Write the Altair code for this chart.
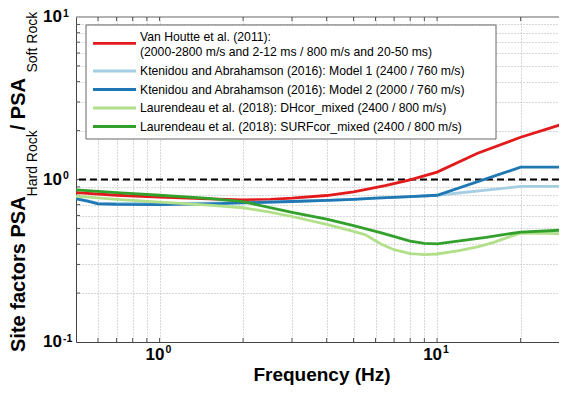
import altair as alt
import pandas as pd

FONT = "Liberation Sans"

# ---------------- data ----------------
series_names = [
    "Van Houtte et al. (2011)",
    "Ktenidou and Abrahamson (2016): Model 1",
    "Ktenidou and Abrahamson (2016): Model 2",
    "Laurendeau et al. (2018): DHcor_mixed",
    "Laurendeau et al. (2018): SURFcor_mixed",
]
series_colors = ["#e31a1c", "#a6cee3", "#1f78b4", "#b2df8a", "#33a02c"]

vh_f = [0.5, 0.7, 1.0, 1.5, 2.0, 2.5, 3.0, 4.0, 5.0, 6.5, 8.0, 10, 14, 20, 25, 29.5]
vh_v = [0.83, 0.80, 0.778, 0.76, 0.75, 0.755, 0.767, 0.797, 0.84, 0.918, 0.996, 1.11, 1.45, 1.82, 2.05, 2.24]

m1_f = [0.5, 0.55, 0.6, 0.7, 1.0, 1.5, 2.0, 3.0, 4.0, 5.0, 6.0, 8.0, 10, 20, 29.5]
m1_v = [0.765, 0.74, 0.715, 0.712, 0.712, 0.716, 0.722, 0.733, 0.743, 0.755, 0.767, 0.785, 0.80, 0.906, 0.906]

m2_f = [0.5, 0.55, 0.6, 0.7, 1.0, 1.5, 2.0, 3.0, 4.0, 5.0, 6.0, 8.0, 10, 20, 29.5]
m2_v = [0.76, 0.735, 0.707, 0.702, 0.70, 0.708, 0.718, 0.732, 0.743, 0.755, 0.767, 0.785, 0.80, 1.19, 1.19]

dh_f = [0.5, 0.7, 1.0, 1.5, 2.0, 2.5, 3.0, 4.0, 5.0, 5.5, 6.3, 7.0, 8.0, 9.0, 10, 12, 14, 16, 18, 20, 25, 29.5]
dh_v = [0.79, 0.755, 0.725, 0.695, 0.67, 0.63, 0.592, 0.53, 0.48, 0.458, 0.40, 0.37, 0.35, 0.345, 0.348, 0.365, 0.385, 0.41, 0.44, 0.468, 0.466, 0.463]

sf_f = [0.5, 0.7, 1.0, 1.5, 2.0, 3.0, 4.0, 5.0, 6.3, 8.0, 9.0, 10, 15, 20, 29.5]
sf_v = [0.864, 0.83, 0.80, 0.765, 0.73, 0.628, 0.57, 0.52, 0.47, 0.418, 0.405, 0.402, 0.44, 0.475, 0.49]

series_f = [vh_f, m1_f, m2_f, dh_f, sf_f]
series_v = [vh_v, m1_v, m2_v, dh_v, sf_v]

reference_level = [1.0]

legend_labels = [
    "Van Houtte et al. (2011):\n(2000-2800 m/s and 2-12 ms / 800 m/s and 20-50 ms)",
    "Ktenidou and Abrahamson (2016): Model 1 (2400 / 760 m/s)",
    "Ktenidou and Abrahamson (2016): Model 2 (2000 / 760 m/s)",
    "Laurendeau et al. (2018): DHcor_mixed (2400 / 800 m/s)",
    "Laurendeau et al. (2018): SURFcor_mixed (2400 / 800 m/s)",
]

x_tick_vals = [1, 10]
x_tick_base = ["10", "10"]
x_tick_exp = ["0", "1"]
y_tick_vals = [0.1, 1, 10]
y_tick_base = ["10", "10", "10"]
y_tick_exp = ["-1", "0", "1"]

x_grid = [0.6, 0.7, 0.8, 0.9, 1, 2, 3, 4, 5, 6, 7, 8, 9, 10, 20]
y_grid = [0.2, 0.3, 0.4, 0.5, 0.6, 0.7, 0.8, 0.9, 1, 2, 3, 4, 5, 6, 7, 8, 9]

x_title = "Frequency (Hz)"
y_title_parts = ["Site factors PSA", "Hard Rock", " / PSA", "Soft Rock"]

# ---------------- chart ----------------
W, H = 483, 325
xs = alt.Scale(type="log", domain=[0.5, 27.5], nice=False)
ys = alt.Scale(type="log", domain=[0.1, 10], nice=False)
xaxis = alt.Axis(values=x_grid, grid=True, labels=False, ticks=False, title=None)
yaxis = alt.Axis(values=y_grid, grid=True, labels=False, ticks=False, title=None)

one = pd.DataFrame({"k": [0]})
layers = []

# top frame line (the right edge of the figure is cut off, as in the original)
layers.append(
    alt.Chart(one)
    .mark_rule(color="#666666", strokeWidth=1)
    .encode(x=alt.value(0), x2=alt.value(W), y=alt.value(0))
)

# small inward tick marks (MATLAB style)
xg = pd.DataFrame({"g": x_grid})
yg = pd.DataFrame({"g": y_grid})
tick_col = "#555555"
layers.append(
    alt.Chart(xg).mark_rule(color=tick_col, strokeWidth=1)
    .encode(x=alt.X("g:Q", scale=xs, axis=xaxis), y=alt.value(0), y2=alt.value(4))
)
layers.append(
    alt.Chart(xg).mark_rule(color=tick_col, strokeWidth=1)
    .encode(x=alt.X("g:Q", scale=xs, axis=xaxis), y=alt.value(H - 4), y2=alt.value(H))
)
layers.append(
    alt.Chart(yg).mark_rule(color=tick_col, strokeWidth=1)
    .encode(y=alt.Y("g:Q", scale=ys, axis=yaxis), x=alt.value(0), x2=alt.value(4))
)

# dashed reference line
layers.append(
    alt.Chart(pd.DataFrame({"r": reference_level}))
    .mark_rule(color="black", strokeWidth=2, strokeDash=[7, 4])
    .encode(y=alt.Y("r:Q", scale=ys, axis=yaxis))
)

# series lines (drawn in legend order, last on top)
for name, col, fs, vs in zip(series_names, series_colors, series_f, series_v):
    df = pd.DataFrame({"f": fs, "v": vs})
    layers.append(
        alt.Chart(df)
        .mark_line(color=col, strokeWidth=2.8, interpolate="linear", clip=True)
        .encode(
            x=alt.X("f:Q", scale=xs, axis=xaxis),
            y=alt.Y("v:Q", scale=ys, axis=yaxis),
        )
    )

# legend box
layers.append(
    alt.Chart(one)
    .mark_rect(fill="white", stroke="#666666", strokeWidth=1)
    .encode(x=alt.value(10), x2=alt.value(420), y=alt.value(8), y2=alt.value(122))
)
legend_rows = [26.3, 54, 72.5, 91, 109.5]
legend_text_shift = [-6.0, 0, 0, 0, 0]
for lab, col, ly, sh in zip(legend_labels, series_colors, legend_rows, legend_text_shift):
    layers.append(
        alt.Chart(one)
        .mark_rule(color=col, strokeWidth=2.8)
        .encode(x=alt.value(17), x2=alt.value(60), y=alt.value(ly))
    )
    layers.append(
        alt.Chart(pd.DataFrame({"t": [lab]}))
        .mark_text(align="left", baseline="middle", font=FONT, fontSize=12.2,
                   color="black", lineBreak="\n", lineHeight=15)
        .encode(x=alt.value(64), y=alt.value(ly + sh), text="t:N")
    )

# y tick labels
ydf = pd.DataFrame({"v": y_tick_vals, "b": y_tick_base, "e": y_tick_exp})
layers.append(
    alt.Chart(ydf)
    .mark_text(align="right", baseline="middle", font=FONT, fontSize=17,
               fontWeight="bold", color="black")
    .encode(x=alt.value(-14), y=alt.Y("v:Q", scale=ys, axis=yaxis), text="b:N")
)
layers.append(
    alt.Chart(ydf)
    .mark_text(align="left", baseline="middle", font=FONT, fontSize=10.5,
               fontWeight="bold", color="black", dy=-3.5)
    .encode(x=alt.value(-13), y=alt.Y("v:Q", scale=ys, axis=yaxis), text="e:N")
)

# x tick labels
xdf = pd.DataFrame({"f": x_tick_vals, "b": x_tick_base, "e": x_tick_exp})
layers.append(
    alt.Chart(xdf)
    .mark_text(align="right", baseline="middle", font=FONT, fontSize=17,
               fontWeight="bold", color="black", dx=5)
    .encode(x=alt.X("f:Q", scale=xs, axis=xaxis), y=alt.value(H + 13), text="b:N")
)
layers.append(
    alt.Chart(xdf)
    .mark_text(align="left", baseline="middle", font=FONT, fontSize=10.5,
               fontWeight="bold", color="black", dx=6, dy=-5)
    .encode(x=alt.X("f:Q", scale=xs, axis=xaxis), y=alt.value(H + 13), text="e:N")
)

# x title (centred on the full, uncut plot width of the original)
layers.append(
    alt.Chart(pd.DataFrame({"t": [x_title]}))
    .mark_text(align="center", baseline="alphabetic", font=FONT, fontSize=19,
               fontWeight="bold", color="black")
    .encode(x=alt.value(246), y=alt.value(H + 39), text="t:N")
)

# y title pieces (rotated, reading upward, with subscripts)
piece_style = [(20, "bold", -51), (14, "normal", -39), (20, "bold", -51), (14, "normal", -39)]
piece_start = [335, 179.4, 113.3, 55.5]
for txt, (fsz, fw, px), py in zip(y_title_parts, piece_style, piece_start):
    layers.append(
        alt.Chart(pd.DataFrame({"t": [txt]}))
        .mark_text(align="left", baseline="alphabetic", angle=270, font=FONT,
                   fontSize=fsz, fontWeight=fw, color="black")
        .encode(x=alt.value(px), y=alt.value(py), text="t:N")
    )

chart = (
    alt.layer(*layers)
    .properties(
        width=W,
        height=H,
        padding={"left": 68, "top": 9, "right": 0, "bottom": 44},
        autosize=alt.AutoSizeParams(type="none"),
    )
    .configure_view(stroke=None)
    .configure_axis(gridDash=[1, 2], gridColor="#b0b0b0", gridWidth=1,
                    domainColor="#444444", domainWidth=1)
)

chart.save("out.html", embed_options={"renderer": "svg", "actions": False})
